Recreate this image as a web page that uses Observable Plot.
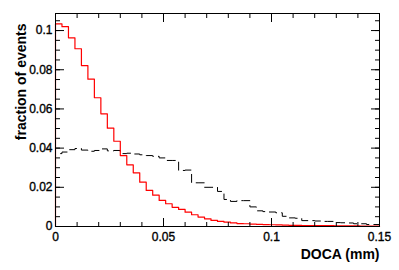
<!DOCTYPE html>
<html>
<head>
<meta charset="utf-8">
<script src="https://cdn.jsdelivr.net/npm/d3@7"></script>
<script src="https://cdn.jsdelivr.net/npm/@observablehq/plot@0.6"></script>
<style>
  html, body { margin: 0; padding: 0; background: #fff; }
  #chart svg { display: block; font-family: "Liberation Sans", Arial, sans-serif; }
</style>
</head>
<body>
<div id="chart"></div>
<script>
// Histogram range and binning (DOCA in mm)
const xMin = 0, xMax = 0.15, nBins = 50;

// Red solid histogram: fraction of events per bin
const redFraction = [
  0.1034, 0.1020, 0.0963, 0.0907, 0.0821, 0.0752, 0.0657, 0.0575, 0.0502, 0.0435,
  0.0362, 0.0315, 0.0274, 0.0226, 0.0184, 0.0160, 0.0133, 0.0116, 0.0098, 0.0087,
  0.0073, 0.0060, 0.0048, 0.0039, 0.0031, 0.0026, 0.0022, 0.0018, 0.0015, 0.0014,
  0.0012, 0.0011, 0.0010, 0.0009, 0.0008, 0.0007, 0.0006, 0.0006, 0.0005, 0.0005,
  0.0004, 0.0004, 0.0004, 0.0003, 0.0003, 0.0003, 0.0003, 0.0002, 0.0002, 0.0002
];

// Black dashed histogram: fraction of events per bin
const blackFraction = [
  0.0372, 0.0380, 0.0392, 0.0398, 0.0390, 0.0384, 0.0388, 0.0396, 0.0386, 0.0388,
  0.0372, 0.0374, 0.0370, 0.0366, 0.0362, 0.0358, 0.0350, 0.0337, 0.0337, 0.0286,
  0.0288, 0.0223, 0.0223, 0.0200, 0.0200, 0.0179, 0.0138, 0.0128, 0.0132, 0.0132,
  0.0100, 0.0080, 0.0076, 0.0074, 0.0070, 0.0052, 0.0044, 0.0042, 0.0030, 0.0030,
  0.0028, 0.0026, 0.0026, 0.0020, 0.0019, 0.0018, 0.0014, 0.0014, 0.0010, 0.0010
];

// Axis ticks and labels
const xMajorTicks = [0, 0.05, 0.1, 0.15];
const xTickLabels = ["0", "0.05", "0.1", "0.15"];
const xMinorTicks = [0, 0.01, 0.02, 0.03, 0.04, 0.05, 0.06, 0.07, 0.08, 0.09, 0.1, 0.11, 0.12, 0.13, 0.14, 0.15];
const yMajorTicks = [0, 0.02, 0.04, 0.06, 0.08, 0.1];
const yTickLabels = ["0", "0.02", "0.04", "0.06", "0.08", "0.1"];
const yMinorTicks = [0, 0.005, 0.01, 0.015, 0.02, 0.025, 0.03, 0.035, 0.04, 0.045, 0.05, 0.055, 0.06, 0.065, 0.07, 0.075, 0.08, 0.085, 0.09, 0.095, 0.1, 0.105];
const yMax = 0.1087;

const xTitle = "DOCA (mm)";
const yTitle = "fraction of events";

// Build step outlines from the bin arrays
const binW = (xMax - xMin) / nBins;
function outline(values) {
  const pts = [{x: xMin, y: 0}];
  values.forEach((v, i) => pts.push({x: xMin + i * binW, y: v}));
  pts.push({x: xMax, y: 0});
  return pts;
}
const redLine = outline(redFraction);
const blackLine = outline(blackFraction);

const fmtX = d => xTickLabels[xMajorTicks.findIndex(t => Math.abs(t - d) < 1e-9)];
const fmtY = d => yTickLabels[yMajorTicks.findIndex(t => Math.abs(t - d) < 1e-9)];

const chart = Plot.plot({
  width: 399,
  height: 270,
  marginLeft: 55,
  marginRight: 20,
  marginTop: 13,
  marginBottom: 44,
  style: {fontFamily: "'Liberation Sans', Arial, sans-serif", fontSize: "12px", color: "#000", background: "#fff"},
  x: {domain: [xMin, xMax]},
  y: {domain: [0, yMax]},
  marks: [
    Plot.line(blackLine, {x: "x", y: "y", curve: "step-after", stroke: "#000", strokeWidth: 1, strokeDasharray: "8,5"}),
    Plot.line(redLine, {x: "x", y: "y", curve: "step-after", stroke: "#ff0000", strokeWidth: 1.2}),
    Plot.frame({stroke: "#000", strokeWidth: 1}),
    // inward ticks, bottom & top
    Plot.axisX({anchor: "bottom", ticks: xMinorTicks, tickSize: -4, tickFormat: () => "", label: null}),
    Plot.axisX({anchor: "bottom", ticks: xMajorTicks, tickSize: -8, tickFormat: () => "", label: null}),
    Plot.axisX({anchor: "top", ticks: xMinorTicks, tickSize: -4, tickFormat: () => "", label: null}),
    Plot.axisX({anchor: "top", ticks: xMajorTicks, tickSize: -8, tickFormat: () => "", label: null}),
    // inward ticks, left & right
    Plot.axisY({anchor: "left", ticks: yMinorTicks, tickSize: -5, tickFormat: () => "", label: null}),
    Plot.axisY({anchor: "left", ticks: yMajorTicks, tickSize: -9, tickFormat: () => "", label: null}),
    Plot.axisY({anchor: "right", ticks: yMinorTicks, tickSize: -5, tickFormat: () => "", label: null}),
    Plot.axisY({anchor: "right", ticks: yMajorTicks, tickSize: -9, tickFormat: () => "", label: null}),
    // tick labels
    Plot.axisX({anchor: "bottom", ticks: xMajorTicks, tickSize: 0, tickPadding: 6, tickFormat: fmtX, label: null, fontSize: 12, fill: "#000", textStroke: "#000", textStrokeWidth: 0.35}),
    Plot.axisY({anchor: "left", ticks: yMajorTicks, tickSize: 0, tickPadding: 3, tickFormat: fmtY, label: null, fontSize: 12, fill: "#000", textStroke: "#000", textStrokeWidth: 0.35}),
    // titles
    Plot.text([xTitle], {text: d => d, frameAnchor: "bottom-right", textAnchor: "end", lineAnchor: "bottom", dy: 32, fontSize: 14, fontWeight: "bold", fill: "#000"}),
    Plot.text([yTitle], {text: d => d, frameAnchor: "top-left", textAnchor: "end", lineAnchor: "bottom", rotate: -90, dx: -30, dy: 10, fontSize: 14, fontWeight: "bold", fill: "#000"})
  ]
});
document.getElementById("chart").appendChild(chart);
</script>
</body>
</html>
